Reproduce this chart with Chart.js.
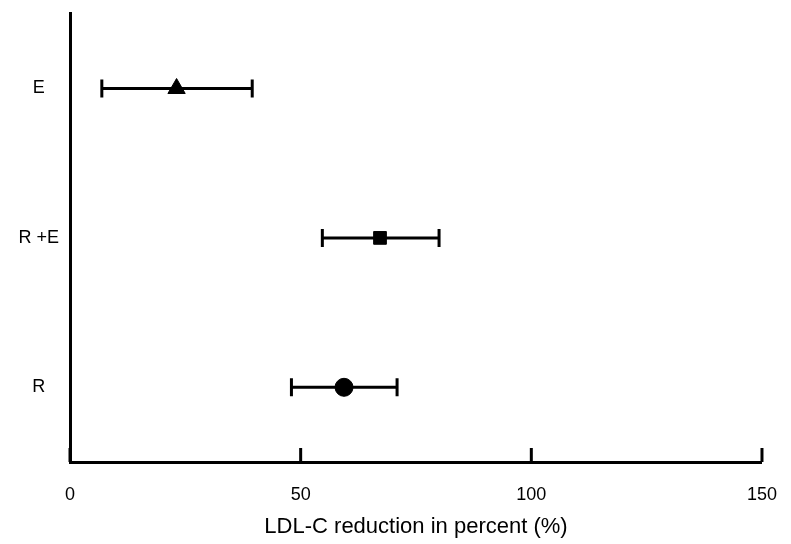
<!DOCTYPE html>
<html>
<head>
<script src="https://cdn.jsdelivr.net/npm/chart.js@4/dist/chart.umd.min.js"></script>
<style>body{margin:0;background:#fff}#wrap{width:791px;height:544px}</style>
</head>
<body>
<div id="wrap"><canvas id="c"></canvas></div>
<script>
let groups = ["E", "R +E", "R"];
let means = [23.1, 67.2, 59.4];
let lows = [6.9, 54.7, 48];
let highs = [39.5, 80, 70.9];
let shapes = ["triangle", "rect", "circle"];
let xTicks = [0, 50, 100, 150];

let points = groups.map((g, i) => ({ x: means[i], y: i + 0.5 }));

const errorBars = {
  id: "errorBars",
  afterDatasetsDraw(chart) {
    const ctx = chart.ctx, xs = chart.scales.x, ys = chart.scales.y;
    ctx.save();
    ctx.strokeStyle = "#000";
    ctx.lineWidth = 3;
    groups.forEach((g, i) => {
      let y = ys.getPixelForValue(i + 0.5);
      let x1 = xs.getPixelForValue(lows[i]), x2 = xs.getPixelForValue(highs[i]);
      ctx.beginPath();
      ctx.moveTo(x1, y); ctx.lineTo(x2, y);
      ctx.moveTo(x1, y - 9); ctx.lineTo(x1, y + 9);
      ctx.moveTo(x2, y - 9); ctx.lineTo(x2, y + 9);
      ctx.stroke();
    });
    // x tick marks pointing up
    let b = chart.chartArea.bottom;
    xTicks.forEach(t => {
      let x = xs.getPixelForValue(t);
      ctx.beginPath(); ctx.moveTo(x, b); ctx.lineTo(x, b - 14); ctx.stroke();
    });
    ctx.restore();
  }
};

new Chart(document.getElementById("c"), {
  type: "scatter",
  data: {
    datasets: [{
      data: points,
      pointStyle: shapes,
      pointRadius: [10, 9, 9],
      backgroundColor: "#000",
      borderColor: "#000"
    }]
  },
  plugins: [errorBars],
  options: {
    responsive: true,
    maintainAspectRatio: false,
    animation: false,
    layout: { padding: { top: 3, right: 27 } },
    plugins: { legend: { display: false }, tooltip: { enabled: false } },
    scales: {
      x: {
        min: 0, max: 150,
        afterBuildTicks: s => { s.ticks = xTicks.map(v => ({ value: v })); },
        afterFit: s => { s.height = 82; },
        grid: { display: false },
        border: { color: "#000", width: 3 },
        ticks: { color: "#000", font: { family: "Liberation Sans", size: 18 }, padding: 14 },
        title: { display: true, text: "LDL-C reduction in percent (%)", color: "#000",
          font: { family: "Liberation Sans", size: 22 }, padding: { top: 6 } }
      },
      y: {
        min: 0, max: 3, reverse: true,
        afterBuildTicks: s => { s.ticks = groups.map((g, i) => ({ value: i + 0.5 })); },
        afterFit: s => { s.width = 70; },
        grid: { display: false },
        border: { color: "#000", width: 3 },
        ticks: { color: "#000", font: { family: "Liberation Sans", size: 18 },
          crossAlign: "center", callback: v => groups[Math.floor(v)] }
      }
    }
  }
});
</script>
</body>
</html>
